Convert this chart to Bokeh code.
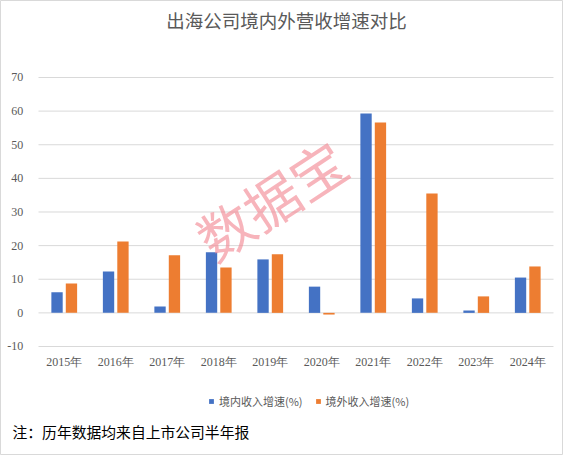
from bokeh.plotting import figure
from bokeh.models import ColumnDataSource, Label, Legend, LegendItem, FactorRange, Range1d, Grid
from bokeh.transform import dodge
from bokeh.core.properties import value
from bokeh.embed import file_html
from bokeh.resources import INLINE

years = ["2015年", "2016年", "2017年", "2018年", "2019年", "2020年", "2021年", "2022年", "2023年", "2024年"]
domestic = [6.1, 12.3, 1.9, 18.0, 15.9, 7.8, 59.3, 4.3, 0.7, 10.5]
overseas = [8.7, 21.2, 17.1, 13.5, 17.4, -0.5, 56.6, 35.5, 4.9, 13.8]
yticks = [-10, 0, 10, 20, 30, 40, 50, 60, 70]
ytick_labels = ["-10", "0", "10", "20", "30", "40", "50", "60", "70"]
title_text = "出海公司境内外营收增速对比"
note_text = "注：历年数据均来自上市公司半年报"
series_names = ["境内收入增速(%)", "境外收入增速(%)"]
watermark = "数据宝"

CJK = "Noto Sans CJK SC"
SERIF = "Liberation Serif"
GREY = "#595959"
SHIFT = 0.2718  # horizontal layout offset of the plot area inside the canvas

src = ColumnDataSource(dict(x=years, d=domestic, o=overseas))
grid_src = ColumnDataSource(dict(y=yticks, lab=ytick_labels,
                                 first=[years[0]] * len(yticks), last=[years[-1]] * len(yticks)))

x_range = FactorRange(*years, range_padding=0.0932, range_padding_units="percent")
p = figure(x_range=x_range, y_range=Range1d(-42.42, 92.90),
           frame_width=563, frame_height=455,
           x_axis_location=None, y_axis_location=None,
           output_backend="svg", toolbar_location=None,
           min_border_left=0, min_border_right=0, min_border_top=0, min_border_bottom=0)
p.outline_line_color = "#d9d9d9"
p.background_fill_color = "white"
p.border_fill_color = "white"
for r in list(p.center):
    if isinstance(r, Grid):
        r.visible = False

# horizontal gridlines
p.segment(x0=dodge("first", -0.5 + SHIFT, range=x_range), y0="y",
          x1=dodge("last", 0.5 + SHIFT, range=x_range), y1="y",
          source=grid_src, line_color="#d9d9d9", line_width=1)

# y tick labels
p.text(x=dodge("first", -0.525, range=x_range), y="y", text="lab", source=grid_src,
       text_align="right", text_baseline="middle", text_font=value(SERIF),
       text_font_size="12px", text_color=GREY)

r1 = p.vbar(x=dodge("x", -0.14 + SHIFT, range=x_range), top="d", width=0.22, source=src,
            color="#4472C4", line_color=None)
r2 = p.vbar(x=dodge("x", 0.14 + SHIFT, range=x_range), top="o", width=0.22, source=src,
            color="#ED7D31", line_color=None)

# x category labels
p.text(x=dodge("x", SHIFT, range=x_range), y=-14.76, text="x", source=src,
       text_align="center", text_baseline="middle", text_font=value(SERIF),
       text_font_size="12px", text_color=GREY)

p.add_layout(Label(x=4.777, y=34.0, text=watermark, angle=0.58,
                   text_align="center", text_baseline="middle",
                   text_font=CJK, text_font_size="55px", text_color="#f28c96",
                   text_alpha=0.65))

p.add_layout(Label(x=5.085, y=87.0, text=title_text, text_align="center",
                   text_baseline="middle", text_font=CJK, text_font_size="18.5px",
                   text_color=GREY))

p.add_layout(Label(x=-0.233, y=-35.3, text=note_text, text_align="left",
                   text_baseline="middle", text_font=CJK, text_font_size="14.8px",
                   text_color="#000000"))

legend = Legend(items=[LegendItem(label=series_names[0], renderers=[r1]),
                       LegendItem(label=series_names[1], renderers=[r2])],
                orientation="horizontal", location=(208, 46),
                glyph_width=6, glyph_height=6, label_text_font=CJK,
                label_text_font_size="11px", label_text_color=GREY,
                background_fill_alpha=0, border_line_color=None,
                spacing=12, padding=4, margin=0, label_standoff=5)
p.add_layout(legend)

open("out.html", "w").write(file_html(p, INLINE))
